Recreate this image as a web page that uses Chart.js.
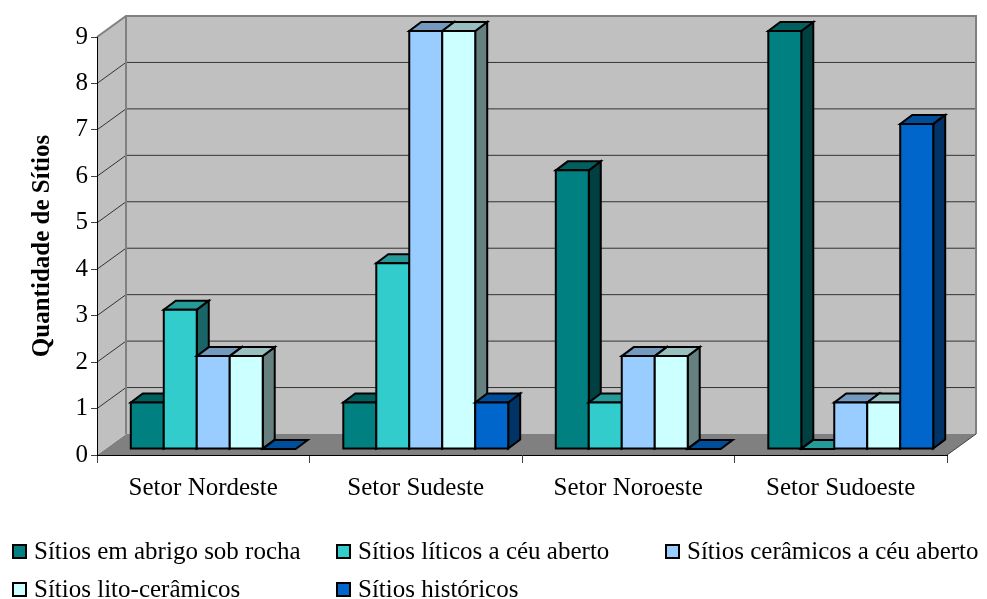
<!DOCTYPE html>
<html>
<head>
<meta charset="utf-8">
<script src="https://cdn.jsdelivr.net/npm/chart.js@4.4.1/dist/chart.umd.min.js"></script>
<style>
    html, body { margin: 0; padding: 0; background: #fff; }
    #wrap { position: relative; width: 987px; height: 599px; }
    #legend { position: absolute; left: 0; top: 0; width: 987px; height: 599px; pointer-events: none;
        font-family: "Liberation Serif", "Times New Roman", serif; font-size: 25px; color: #000; }
    .item { position: absolute; height: 30px; display: flex; align-items: center; white-space: nowrap; }
    .box { width: 11px; height: 11px; border: 2px solid #000; margin-right: 7px; }
</style>
</head>
<body>
<div id="wrap">
    <canvas id="chart" width="987" height="599"></canvas>
    <div id="legend"></div>
</div>
<script>
// data
const sectors = ["Setor Nordeste", "Setor Sudeste", "Setor Noroeste", "Setor Sudoeste"];
const seriesNames = [
    "Sítios em abrigo sob rocha",
    "Sítios líticos a céu aberto",
    "Sítios cerâmicos a céu aberto",
    "Sítios lito-cerâmicos",
    "Sítios históricos"
];
const abrigo = [1, 1, 6, 9];
const liticos = [3, 4, 1, 0];
const ceramicos = [2, 9, 2, 1];
const litoCeramicos = [2, 9, 2, 1];
const historicos = [0, 1, 0, 7];
const yTicks = [0, 1, 2, 3, 4, 5, 6, 7, 8, 9];

const colors = ["#008080", "#33CCCC", "#99CCFF", "#CCFFFF", "#0066CC"];
const seriesValues = [abrigo, liticos, ceramicos, litoCeramicos, historicos];

// 3d look: back wall offset and bar offsets (pixels)
const WALL_DX = 29, WALL_DY = -21;
const BAR_OX = 10, BAR_OY = -6;
const BAR_DX = 12, BAR_DY = -9;

const serif = "'Liberation Serif', 'Times New Roman', serif";

function shade(hex, f) {
    const n = parseInt(hex.slice(1), 16);
    const r = Math.round(((n >> 16) & 255) * f);
    const g = Math.round(((n >> 8) & 255) * f);
    const b = Math.round((n & 255) * f);
    return `rgb(${r},${g},${b})`;
}

function poly(ctx, pts, fill, stroke, lw) {
    ctx.beginPath();
    ctx.moveTo(pts[0][0], pts[0][1]);
    for (let i = 1; i < pts.length; i++) ctx.lineTo(pts[i][0], pts[i][1]);
    ctx.closePath();
    if (fill) { ctx.fillStyle = fill; ctx.fill(); }
    if (stroke) { ctx.strokeStyle = stroke; ctx.lineWidth = lw || 1; ctx.stroke(); }
}

function line(ctx, pts, color, lw) {
    ctx.beginPath();
    ctx.moveTo(pts[0][0], pts[0][1]);
    for (let i = 1; i < pts.length; i++) ctx.lineTo(pts[i][0], pts[i][1]);
    ctx.strokeStyle = color;
    ctx.lineWidth = lw;
    ctx.stroke();
}

const box3d = {
    id: "box3d",
    beforeDraw(chart) {
        const ctx = chart.ctx;
        const { left, right, top, bottom } = chart.chartArea;
        const y = chart.scales.y;
        ctx.save();
        // floor
        poly(ctx, [[left, bottom], [right, bottom], [right + WALL_DX, bottom + WALL_DY], [left + WALL_DX, bottom + WALL_DY]], "#808080");
        // back wall + side wall
        ctx.fillStyle = "#C0C0C0";
        ctx.fillRect(left + WALL_DX, top + WALL_DY, right - left, bottom - top);
        poly(ctx, [[left, top], [left + WALL_DX, top + WALL_DY], [left + WALL_DX, bottom + WALL_DY], [left, bottom]], "#C0C0C0");
        // grid lines
        yTicks.forEach(v => {
            if (v === yTicks[0] || v === yTicks[yTicks.length - 1]) return;
            const yp = y.getPixelForValue(v);
            line(ctx, [[left, yp], [left + WALL_DX, yp + WALL_DY], [right + WALL_DX, yp + WALL_DY]], "#333", 1);
        });
        // wall edges
        line(ctx, [[left, top], [left + WALL_DX, top + WALL_DY], [right + WALL_DX, top + WALL_DY],
            [right + WALL_DX, bottom + WALL_DY]], "#808080", 2);
        line(ctx, [[left + WALL_DX, top + WALL_DY], [left + WALL_DX, bottom + WALL_DY]], "#808080", 2);
        line(ctx, [[right, bottom], [right + WALL_DX, bottom + WALL_DY]], "#404040", 1);
        ctx.restore();
    },
    beforeDatasetDraw() {
        return false;
    },
    afterDatasetsDraw(chart) {
        const ctx = chart.ctx;
        ctx.save();
        ctx.lineJoin = "miter";
        const metas = chart.data.datasets.map((d, i) => chart.getDatasetMeta(i));
        for (let c = 0; c < sectors.length; c++) {
            metas.forEach((meta, d) => {
                const bar = meta.data[c].getProps(["x", "y", "base", "width"], true);
                const col = colors[d];
                const x0 = bar.x - bar.width / 2 + BAR_OX;
                const x1 = bar.x + bar.width / 2 + BAR_OX;
                const yT = Math.min(bar.y, bar.base) + BAR_OY;
                const yB = bar.base + BAR_OY;
                const topFace = [[x0, yT], [x1, yT], [x1 + BAR_DX, yT + BAR_DY], [x0 + BAR_DX, yT + BAR_DY]];
                if (yB - yT < 0.5) {
                    poly(ctx, topFace, shade(col, 0.75), "#000", 2);
                    return;
                }
                poly(ctx, [[x1, yT], [x1 + BAR_DX, yT + BAR_DY], [x1 + BAR_DX, yB + BAR_DY], [x1, yB]], shade(col, 0.5), "#000", 2);
                poly(ctx, topFace, shade(col, 0.75), "#000", 2);
                poly(ctx, [[x0, yT], [x1, yT], [x1, yB], [x0, yB]], col, "#000", 2);
            });
        }
        ctx.restore();
    }
};

const chart = new Chart(document.getElementById("chart"), {
    type: "bar",
    data: {
        labels: sectors,
        datasets: seriesNames.map((name, i) => ({
            label: name,
            data: seriesValues[i],
            backgroundColor: colors[i],
            borderColor: "#000",
            borderWidth: 2
        }))
    },
    options: {
        responsive: false,
        animation: false,
        categoryPercentage: 0.776,
        barPercentage: 1,
        layout: { padding: { left: 0, top: 37, right: 40, bottom: 104 } },
        plugins: {
            legend: { display: false },
            tooltip: { enabled: false }
        },
        scales: {
            x: {
                afterFit: s => { s.height = 40; },
                grid: { offset: true, drawOnChartArea: false, tickLength: 8, color: "#404040" },
                border: { color: "#000", width: 1 },
                ticks: { color: "#000", padding: 10, font: { family: serif, size: 25 } }
            },
            y: {
                min: 0,
                max: yTicks[yTicks.length - 1],
                afterFit: s => { s.width = 97; },
                afterBuildTicks: s => { s.ticks = yTicks.map(v => ({ value: v })); },
                grid: { drawOnChartArea: false, tickLength: 6, color: "#404040" },
                border: { color: "#000", width: 1 },
                ticks: { color: "#000", padding: 3, font: { family: serif, size: 25 } },
                title: {
                    display: true,
                    text: "Quantidade de Sítios",
                    color: "#000",
                    padding: { top: 28, bottom: 0 },
                    font: { family: serif, size: 25, weight: "bold" }
                }
            }
        }
    },
    plugins: [box3d]
});

// legend laid out in a grid like the original
const legendCols = [12, 336, 665];
const legendRows = [551, 589];
const legendEl = document.getElementById("legend");
chart.data.datasets.forEach((ds, i) => {
    const item = document.createElement("div");
    item.className = "item";
    item.style.left = legendCols[i % 3] + "px";
    item.style.top = (legendRows[Math.floor(i / 3)] - 15) + "px";
    item.innerHTML = `<span class="box" style="background:${ds.backgroundColor}"></span><span>${ds.label}</span>`;
    legendEl.appendChild(item);
});
</script>
</body>
</html>
